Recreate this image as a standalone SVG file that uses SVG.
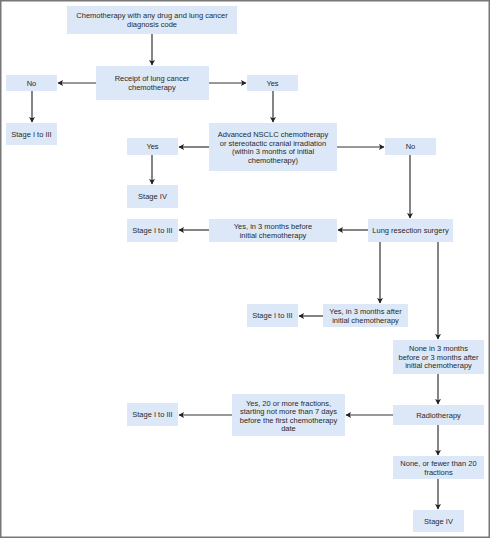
<svg xmlns="http://www.w3.org/2000/svg" width="491" height="539" viewBox="0 0 491 539">
<defs>
<marker id="ah" markerWidth="6" markerHeight="6" refX="5" refY="3" orient="auto" markerUnits="userSpaceOnUse">
<path d="M0,0 L5.5,3 L0,6 L1.2,3 Z" fill="#222"/>
</marker>
</defs>
<style>
.b{fill:#dce8f7}
.t{font-family:"Liberation Sans",Arial,sans-serif;font-size:7.5px;fill:#2a2a2a;text-anchor:middle}
.c{stroke:#333;stroke-width:1.2;fill:none}
.a{marker-end:url(#ah)}
</style>
<rect x="0.75" y="0.75" width="488.5" height="536.5" fill="#fff" stroke="#777" stroke-width="1.5"/>
<g id="connectors">
<line class="c a" x1="152" y1="34" x2="152" y2="65"/>
<line class="c a" x1="96" y1="83" x2="58" y2="83"/>
<line class="c a" x1="209" y1="83" x2="246" y2="83"/>
<line class="c a" x1="32" y1="91" x2="32" y2="122"/>
<line class="c a" x1="273" y1="91" x2="273" y2="122"/>
<line class="c a" x1="209" y1="147" x2="179" y2="147"/>
<line class="c a" x1="337" y1="147" x2="384" y2="147"/>
<line class="c a" x1="152" y1="155" x2="152" y2="184"/>
<line class="c a" x1="410" y1="155" x2="410" y2="218"/>
<line class="c a" x1="368" y1="230" x2="338" y2="230"/>
<line class="c a" x1="209" y1="230" x2="179" y2="230"/>
<line class="c a" x1="380" y1="242" x2="380" y2="303"/>
<line class="c a" x1="438" y1="242" x2="438" y2="339"/>
<line class="c a" x1="323" y1="316" x2="299" y2="316"/>
<line class="c a" x1="438" y1="374" x2="438" y2="404"/>
<line class="c a" x1="393" y1="415" x2="346" y2="415"/>
<line class="c a" x1="232" y1="415" x2="179" y2="415"/>
<line class="c a" x1="438" y1="425" x2="438" y2="455"/>
<line class="c a" x1="438" y1="479" x2="438" y2="509"/>
</g>
<g id="n1"><rect class="b" x="67" y="6" width="170" height="28"/><text class="t" x="152" y="18">Chemotherapy with any drug and lung cancer</text><text class="t" x="152" y="27">diagnosis code</text></g>
<g id="n2"><rect class="b" x="96" y="66" width="113" height="34"/><text class="t" x="152" y="81">Receipt of lung cancer</text><text class="t" x="152" y="90">chemotherapy</text></g>
<g id="n3"><rect class="b" x="6" y="75" width="51" height="16"/><text class="t" x="31.5" y="85.5">No</text></g>
<g id="n4"><rect class="b" x="247" y="75" width="51" height="16"/><text class="t" x="272.5" y="85.5">Yes</text></g>
<g id="n5"><rect class="b" x="6" y="123" width="51" height="22"/><text class="t" x="31.5" y="136.5">Stage I to III</text></g>
<g id="n6"><rect class="b" x="209" y="123" width="128" height="48"/><text class="t" x="273" y="137">Advanced NSCLC chemotherapy</text><text class="t" x="273" y="145.5">or stereotactic cranial irradiation</text><text class="t" x="273" y="154">(within 3 months of initial</text><text class="t" x="273" y="162.5">chemotherapy)</text></g>
<g id="n7"><rect class="b" x="127" y="138" width="51" height="17"/><text class="t" x="152.5" y="149">Yes</text></g>
<g id="n8"><rect class="b" x="385" y="138" width="51" height="17"/><text class="t" x="410.5" y="149">No</text></g>
<g id="n9"><rect class="b" x="127" y="185" width="51" height="23"/><text class="t" x="152.5" y="199">Stage IV</text></g>
<g id="n10"><rect class="b" x="127" y="219" width="51" height="23"/><text class="t" x="152.5" y="233">Stage I to III</text></g>
<g id="n11"><rect class="b" x="209" y="219" width="128" height="23"/><text class="t" x="273" y="229">Yes, in 3 months before</text><text class="t" x="273" y="237.5">initial chemotherapy</text></g>
<g id="n12"><rect class="b" x="368" y="219" width="85" height="23"/><text class="t" x="410.5" y="233">Lung resection surgery</text></g>
<g id="n13"><rect class="b" x="247" y="304" width="51" height="23"/><text class="t" x="272.5" y="318">Stage I to III</text></g>
<g id="n14"><rect class="b" x="323" y="304" width="85" height="23"/><text class="t" x="365.5" y="314">Yes, in 3 months after</text><text class="t" x="365.5" y="322.5">initial chemotherapy</text></g>
<g id="n15"><rect class="b" x="393" y="340" width="91" height="34"/><text class="t" x="438.5" y="351">None in 3 months</text><text class="t" x="438.5" y="359.5">before or 3 months after</text><text class="t" x="438.5" y="368">initial chemotherapy</text></g>
<g id="n16"><rect class="b" x="232" y="394" width="113" height="42"/><text class="t" x="288.5" y="405.5">Yes, 20 or more fractions,</text><text class="t" x="288.5" y="414">starting not more than 7 days</text><text class="t" x="288.5" y="422.5">before the first chemotherapy</text><text class="t" x="288.5" y="431">date</text></g>
<g id="n17"><rect class="b" x="393" y="405" width="91" height="20"/><text class="t" x="438.5" y="417.5">Radiotherapy</text></g>
<g id="n18"><rect class="b" x="127" y="403" width="51" height="23"/><text class="t" x="152.5" y="417">Stage I to III</text></g>
<g id="n19"><rect class="b" x="393" y="456" width="91" height="23"/><text class="t" x="438.5" y="466">None, or fewer than 20</text><text class="t" x="438.5" y="474.5">fractions</text></g>
<g id="n20"><rect class="b" x="413" y="510" width="51" height="22"/><text class="t" x="438.5" y="523.5">Stage IV</text></g>
</svg>
